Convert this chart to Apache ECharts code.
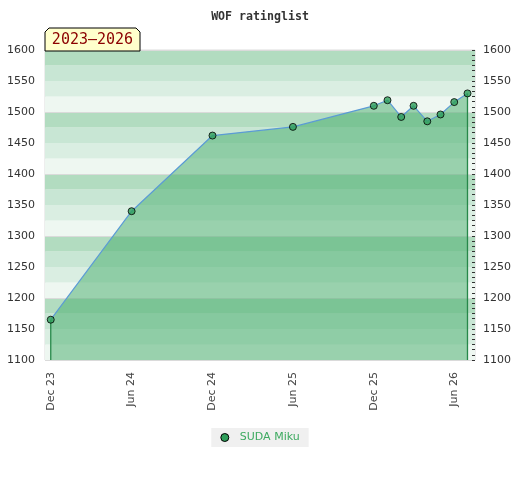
<!DOCTYPE html>
<html>
<head>
<meta charset="utf-8">
<script src="https://cdn.jsdelivr.net/npm/echarts@6/dist/echarts.min.js"></script>
<style>
  html, body { margin: 0; padding: 0; background: #fff; }
  #main { width: 520px; height: 480px; }
</style>
</head>
<body>
<div id="main"></div>
<script>
// rating lists (1st of month) and the player's rating
var dates = ['2023-12-01', '2024-06-01', '2024-12-01', '2025-06-01', '2025-12-01', '2026-01-01',
             '2026-02-01', '2026-03-01', '2026-04-01', '2026-05-01', '2026-06-01', '2026-07-01'];
var ratings = [1165, 1340, 1462, 1476, 1510, 1519, 1492, 1510, 1485, 1496, 1516, 1530];

var tickDates = ['2023-12-01', '2024-06-01', '2024-12-01', '2025-06-01', '2025-12-01', '2026-06-01'];
var tickLabels = ['Dec 23', 'Jun 24', 'Dec 24', 'Jun 25', 'Dec 25', 'Jun 26'];

var player = 'SUDA Miku';
var period = '2023\u20132026';
var yMin = 1100, yMax = 1600;

function toTs(s) {
  var p = s.split('-');
  return new Date(+p[0], +p[1] - 1, +p[2]).getTime();
}

var tickTs = tickDates.map(toTs);
var points = dates.map(function (d, i) { return [toTs(d), ratings[i]]; });
var n = points.length;

var chart = echarts.init(document.getElementById('main'));

function hiddenY(extra) {
  var ax = {
    type: 'value', min: yMin, max: yMax, position: 'left',
    axisLine: { show: false }, axisTick: { show: false }, axisLabel: { show: false },
    splitLine: { show: false }
  };
  for (var k in extra) ax[k] = extra[k];
  return ax;
}

// vertical line from a rating down to the bottom of the plot
function dropSeries(i) {
  return {
    name: 'drop' + i,
    type: 'line',
    data: [[points[i][0], points[i][1]], [points[i][0], yMin]],
    symbol: 'none',
    silent: true,
    clip: false,
    lineStyle: { color: '#27884a', width: 1.3 },
    z: 6
  };
}

function plain(v) { return String(v); }

var markerStyle = { color: '#2e9e5a', borderColor: '#000', borderWidth: 1 };

var option = {
  animation: false,
  title: {
    text: 'WOF ratinglist',
    left: 'center',
    top: 6,
    textStyle: { fontFamily: 'DejaVu Sans Mono', fontWeight: 'bold', fontSize: 11.6, color: '#333' }
  },
  grid: { left: 45, right: 45, top: 50, bottom: 120, show: true, borderColor: '#dcdcdc', borderWidth: 1 },
  legend: {
    data: [player],
    bottom: 33,
    left: 'center',
    icon: 'circle',
    itemWidth: 8,
    itemHeight: 8,
    padding: [4, 9, 4, 9],
    backgroundColor: '#f0f0f0',
    itemStyle: markerStyle,
    textStyle: { color: '#3daa60', fontSize: 11, fontFamily: 'DejaVu Sans', padding: [0, 0, 0, 6] }
  },
  xAxis: {
    type: 'value',
    min: toTs('2023-11-18'),
    max: toTs('2026-07-18'),
    axisLine: { show: false },
    axisTick: { show: false },
    splitLine: { show: false },
    axisLabel: {
      customValues: tickTs,
      rotate: 90,
      margin: 12,
      fontSize: 11,
      fontFamily: 'DejaVu Sans',
      color: '#444',
      formatter: function (v) {
        var i = tickTs.indexOf(v);
        return i < 0 ? '' : tickLabels[i];
      }
    }
  },
  yAxis: [
    {
      type: 'value', min: yMin, max: yMax, interval: 50, position: 'left',
      axisLine: { show: false }, axisTick: { show: false }, splitLine: { show: false },
      axisLabel: { margin: 10, fontSize: 11, fontFamily: 'DejaVu Sans', color: '#333', formatter: plain }
    },
    {
      type: 'value', min: yMin, max: yMax, interval: 50, position: 'right',
      axisLine: { show: false }, splitLine: { show: false },
      axisTick: { show: true, inside: true, length: 3, lineStyle: { color: '#333' } },
      minorTick: { show: true, splitNumber: 6, length: 3, lineStyle: { color: '#333' } },
      axisLabel: { margin: 8, fontSize: 11, fontFamily: 'DejaVu Sans', color: '#333', formatter: plain }
    },
    hiddenY({
      interval: 25,
      splitArea: { show: true, areaStyle: { color: ['#eef7f1', '#daeee2', '#c8e6d4', '#b2dcc0'] } }
    }),
    hiddenY({
      interval: 100,
      splitLine: { show: true, lineStyle: { color: '#dadada', width: 1 } }
    })
  ],
  graphic: [
    {
      type: 'polygon',
      shape: { points: [[45, 51], [45, 32], [49, 28], [136, 28], [140, 32], [140, 51]] },
      style: { fill: '#ffffcc', stroke: '#000', lineWidth: 1 },
      z: 10
    },
    {
      type: 'text',
      x: 92.5, y: 40,
      style: {
        text: period, fill: '#8b0000', font: '15px "DejaVu Sans Mono"',
        textAlign: 'center', textVerticalAlign: 'middle'
      },
      z: 11
    }
  ],
  series: [
    {
      name: player,
      type: 'line',
      data: points,
      symbol: 'none',
      itemStyle: markerStyle,
      lineStyle: { color: '#5b9bd5', width: 1.2 },
      areaStyle: { color: 'rgb(68,172,106)', opacity: 0.5, origin: 'start' },
      z: 5
    },
    dropSeries(0),
    dropSeries(n - 1),
    {
      name: 'marks',
      type: 'scatter',
      data: points,
      symbol: 'circle',
      symbolSize: 7,
      itemStyle: markerStyle,
      z: 7
    }
  ]
};

chart.setOption(option);
</script>
</body>
</html>
